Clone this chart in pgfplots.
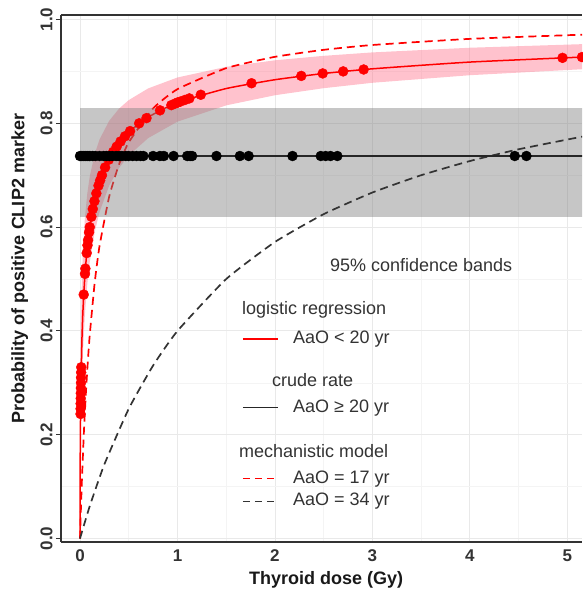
\documentclass[border=0pt]{standalone}
\usepackage{fontspec}
\setmainfont{Liberation Sans}
\usepackage{pgfplots}
\pgfplotsset{compat=1.18}
\definecolor{txt}{RGB}{51,51,51}
\definecolor{pinkband}{RGB}{255,110,135}
\definecolor{gridc}{RGB}{233,233,233}
\definecolor{gridm}{RGB}{244,244,244}
\newcommand\lgf{\fontsize{18}{20}\selectfont}

% logistic regression fit, AaO < 20 yr
\pgfplotstableread{
x        y
0        0
0.00001  0.0099
0.0001   0.0338
0.0005   0.0775
0.001    0.109
0.003    0.1822
0.006    0.2451
0.01     0.300
0.02     0.385
0.03     0.438
0.05     0.507
0.075    0.562
0.1      0.600
0.15     0.652
0.2      0.686
0.3      0.732
0.4      0.761
0.5      0.783
0.7      0.812
1        0.840
1.5      0.867
2        0.884
2.5      0.896
3        0.905
4        0.918
5.2      0.928
}\logfit

\begin{document}
\begin{tikzpicture}
\begin{axis}[
  scale only axis, width=521pt, height=527pt,
  xmin=-0.195, xmax=5.15, ymin=-0.0067, ymax=1.0087,
  axis x line*=box, axis y line*=left,
  axis line style={line width=1.3pt, color=txt},
  xtick={0,1,2,3,4,5}, xticklabels={0,1,2,3,4,5},
  ytick={0,0.2,0.4,0.6,0.8,1.0},
  yticklabels={0.0,0.2,0.4,0.6,0.8,1.0},
  minor xtick={0.5,1.5,2.5,3.5,4.5},
  minor ytick={0.1,0.3,0.5,0.7,0.9},
  grid=both,
  major grid style={gridc, line width=0.9pt},
  minor grid style={gridm, line width=0.6pt},
  xtick pos=bottom, ytick pos=left, tick align=outside,
  major tick length=5pt, minor tick length=0pt,
  tick style={txt, line width=1pt},
  xtick style={draw=none},
  ticklabel style={font=\fontsize{17}{17}\selectfont\bfseries, text=txt},
  yticklabel style={rotate=90, anchor=south},
  xticklabel style={yshift=1pt},
  xlabel={Thyroid dose (Gy)},
  ylabel={Probability of positive CLIP2 marker},
  label style={font=\fontsize{18}{20}\selectfont\bfseries, text=black!90},
  xlabel style={at={(axis description cs:0.509,-0.0721)}, anchor=center},
  ylabel style={at={(axis description cs:-0.079,0.519)}, anchor=center},
]

% 95% confidence band of the logistic fit
\addplot[fill=pinkband, fill opacity=0.42, draw=none] coordinates {
 (0,0) (0.00001,0.0248) (0.0001,0.0709) (0.001,0.1875) (0.003,0.2829)
 (0.006,0.3568) (0.01,0.4168) (0.02,0.5029) (0.03,0.5538) (0.05,0.6170)
 (0.075,0.6652) (0.1,0.6975) (0.15,0.7405) (0.2,0.7688) (0.3,0.8049)
 (0.4,0.8282) (0.5,0.8447) (0.7,0.8673) (1,0.8883) (1.5,0.9088)
 (2,0.9214) (2.5,0.9300) (3,0.9366) (4,0.9456) (5.2,0.9528)
 (5.2,0.9047) (4,0.8927) (3,0.8781) (2.5,0.8677) (2,0.8541)
 (1.5,0.8346) (1,0.8033) (0.7,0.7716) (0.5,0.7381) (0.4,0.7139)
 (0.3,0.6803) (0.2,0.6290) (0.15,0.5900) (0.1,0.5326) (0.075,0.4909)
 (0.05,0.4318) (0.03,0.3595) (0.02,0.3060) (0.01,0.2251) (0.006,0.1757)
 (0.003,0.1227) (0.001,0.0666) (0.0001,0.01706) (0.00001,0.0042) (0,0)
};

% logistic fit line
\addplot[red, line width=1.5pt, smooth, tension=0.3] table[x=x, y=y] {\logfit};

% mechanistic model, AaO = 17 yr
\addplot[red, line width=1.7pt, dash pattern=on 8pt off 5pt, smooth, tension=0.3] coordinates {
 (0,0) (0.01,0.0606) (0.02,0.1143) (0.04,0.2051) (0.06,0.2791) (0.08,0.3404)
 (0.1,0.3922) (0.15,0.4918) (0.2,0.5634) (0.3,0.6593) (0.4,0.7207)
 (0.5,0.7634) (0.75,0.8287) (1,0.8658) (1.5,0.9063) (2,0.9281)
 (2.5,0.9416) (3,0.9509) (4,0.9627) (5.2,0.9711)
};

% observed, AaO < 20 yr
\addplot[only marks, mark=*, mark size=5pt, red] coordinates {
 (0.0057,0.24) (0.0063,0.25) (0.0069,0.26) (0.0076,0.27) (0.0084,0.28)
 (0.0092,0.29) (0.0100,0.30) (0.0109,0.31) (0.0119,0.32) (0.0129,0.33)
 (0.0381,0.47) (0.0511,0.51) (0.0550,0.52) (0.0686,0.55) (0.0767,0.565)
 (0.0827,0.575) (0.0927,0.59) (0.1000,0.60) (0.1167,0.62) (0.1313,0.635)
 (0.148,0.65) (0.1675,0.665) (0.1898,0.68) (0.2066,0.69) (0.2253,0.70)
 (0.2574,0.715) (0.2954,0.73) (0.3409,0.745) (0.376,0.755) (0.416,0.765)
 (0.4616,0.775) (0.5138,0.785) (0.6069,0.80) (0.682,0.81) (0.8209,0.825)
 (0.937,0.835) (0.9757,0.838) (1.0,0.84) (1.031,0.842) (1.076,0.845)
 (1.1216,0.848) (1.239,0.855) (1.76,0.8772) (2.27,0.8913) (2.49,0.8961)
 (2.70,0.9000) (2.91,0.9037) (4.95,0.9261) (5.15,0.9276)
};

% crude rate confidence band, AaO >= 20 yr
\addplot[fill=gray, fill opacity=0.45, draw=none] coordinates {
 (0,0.62) (5.3,0.62) (5.3,0.83) (0,0.83)
};

% mechanistic model, AaO = 34 yr
\addplot[black!80, line width=1.7pt, dash pattern=on 8pt off 5pt, smooth, tension=0.3] coordinates {
 (0,0) (0.1,0.0625) (0.25,0.1429) (0.5,0.25) (0.75,0.3333) (1,0.4)
 (1.5,0.5) (2,0.5714) (2.5,0.625) (3,0.6667) (3.5,0.7) (4,0.7273)
 (4.5,0.75) (5.2,0.7761)
};

% crude rate, AaO >= 20 yr
\addplot[black!85, line width=1.2pt] coordinates {(0,0.737) (5.3,0.737)};
\addplot[only marks, mark=*, mark size=5pt, black] coordinates {
 (0,0.737) (0.02,0.737) (0.04,0.737) (0.06,0.737) (0.08,0.737) (0.1,0.737)
 (0.13,0.737) (0.16,0.737) (0.2,0.737) (0.24,0.737) (0.27,0.737) (0.3,0.737)
 (0.33,0.737) (0.37,0.737) (0.4,0.737) (0.43,0.737) (0.47,0.737) (0.5,0.737)
 (0.54,0.737) (0.58,0.737) (0.62,0.737) (0.65,0.737) (0.75,0.737) (0.82,0.737)
 (0.86,0.737) (0.96,0.737) (1.1,0.737) (1.13,0.737) (1.15,0.737) (1.4,0.737)
 (1.64,0.737) (1.73,0.737) (2.18,0.737) (2.47,0.737) (2.52,0.737) (2.57,0.737)
 (2.64,0.737) (4.46,0.737) (4.58,0.737)
};

% legend
\node[anchor=west, font=\lgf, text=txt, inner sep=0pt] at (axis cs:2.564,0.527) {95\% confidence bands};
\node[anchor=west, font=\lgf, text=txt, inner sep=0pt] at (axis cs:1.662,0.4404) {logistic regression};
\draw[red, line width=1.5pt] (axis cs:1.672,0.3846) -- (axis cs:2.031,0.3846);
\node[anchor=west, font=\lgf, text=txt, inner sep=0pt] at (axis cs:2.185,0.3846) {AaO < 20 yr};
\node[anchor=west, font=\lgf, text=txt, inner sep=0pt] at (axis cs:1.969,0.3058) {crude rate};
\draw[black!85, line width=1.2pt] (axis cs:1.672,0.2519) -- (axis cs:2.031,0.2519);
\node[anchor=west, font=\lgf, text=txt, inner sep=0pt] at (axis cs:2.185,0.2519) {AaO ≥ 20 yr};
\node[anchor=west, font=\lgf, text=txt, inner sep=0pt] at (axis cs:1.631,0.1692) {mechanistic model};
\draw[red, line width=1.7pt, dash pattern=on 7pt off 5pt] (axis cs:1.672,0.1154) -- (axis cs:2.031,0.1154);
\node[anchor=west, font=\lgf, text=txt, inner sep=0pt] at (axis cs:2.185,0.1154) {AaO = 17 yr};
\draw[black!80, line width=1.7pt, dash pattern=on 7pt off 5pt] (axis cs:1.672,0.0712) -- (axis cs:2.031,0.0712);
\node[anchor=west, font=\lgf, text=txt, inner sep=0pt] at (axis cs:2.185,0.0712) {AaO = 34 yr};
\end{axis}
\pgfresetboundingbox
\path (-61pt,-49pt) rectangle (521pt,542pt);
\end{tikzpicture}
\end{document}
